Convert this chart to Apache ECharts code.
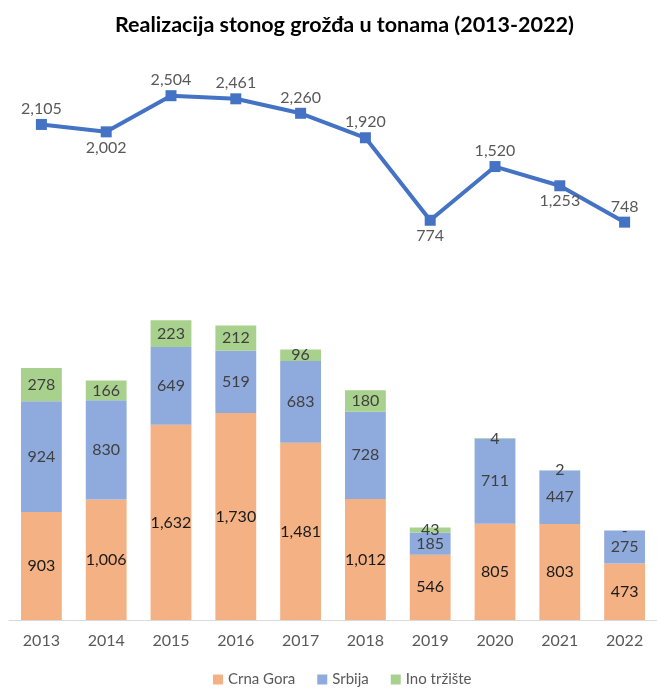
<!DOCTYPE html>
<html>
<head>
<meta charset="utf-8">
<script src="https://cdn.jsdelivr.net/npm/echarts@6/dist/echarts.min.js"></script>
<style>
  html, body { margin: 0; padding: 0; background: #fff; }
  #chart { width: 657px; height: 688px; }
</style>
</head>
<body>
<div id="chart"></div>
<script>
// godine
var years = ['2013', '2014', '2015', '2016', '2017', '2018', '2019', '2020', '2021', '2022'];
// realizacija po tržištima (t)
var crnaGora = [903, 1006, 1632, 1730, 1481, 1012, 546, 805, 803, 473];
var srbija = [924, 830, 649, 519, 683, 728, 185, 711, 447, 275];
var inoTrziste = [278, 166, 223, 212, 96, 180, 43, 4, 2, 0];
// ukupno
var ukupno = [2105, 2002, 2504, 2461, 2260, 1920, 774, 1520, 1253, 748];
// pozicija oznake na liniji
var linePos = ['top', 'bottom', 'top', 'top', 'top', 'top', 'bottom', 'top', 'bottom', 'top'];

var fontFam = 'Lato, "Open Sans", sans-serif';

function fmt(v) {
	if (v === 0) return '-';
	return v.toLocaleString('en-US');
}

var lineData = [];
for (var i = 0; i < ukupno.length; i++) {
	lineData.push({
		value: ukupno[i],
		label: { position: linePos[i] }
	});
}

var segLabel = function(color) {
	return {
		show: true,
		position: 'inside',
		color: color,
		fontSize: 16,
		fontFamily: fontFam,
		formatter: function(p) { return fmt(p.value); }
	};
};

var option = {
	backgroundColor: '#fff',
	animation: false,
	title: {
		text: 'Realizacija stonog grožđa u tonama (2013-2022)',
		left: 110,
		top: 9,
		textStyle: { fontSize: 21.5, fontWeight: 'bold', color: '#000', fontFamily: fontFam }
	},
	legend: {
		bottom: -4,
		left: 208,
		itemWidth: 10,
		itemHeight: 10,
		itemGap: 22,
		icon: 'rect',
		data: ['Crna Gora', 'Srbija', 'Ino tržište'],
		textStyle: { fontSize: 15, color: '#595959', fontFamily: fontFam }
	},
	grid: [
		{ left: 9, width: 658, top: 60, bottom: 412 },
		{ left: 9, width: 658, top: 261, bottom: 68 }
	],
	xAxis: [
		{
			type: 'category', gridIndex: 0, data: years,
			show: false
		},
		{
			type: 'category', gridIndex: 1, data: years,
			axisLine: { lineStyle: { color: '#d9d9d9' } },
			axisTick: { show: false },
			axisLabel: { fontSize: 16, color: '#595959', margin: 13, fontFamily: fontFam }
		}
	],
	yAxis: [
		{ type: 'value', gridIndex: 0, min: 0, max: 3000, show: false, splitLine: { show: false } },
		{ type: 'value', gridIndex: 1, min: 0, max: 3000, show: false, splitLine: { show: false } }
	],
	series: [
		{
			name: 'Ukupno',
			type: 'line',
			xAxisIndex: 0,
			yAxisIndex: 0,
			data: lineData,
			symbol: 'rect',
			symbolSize: 11,
			lineStyle: { color: '#4472C4', width: 4 },
			itemStyle: { color: '#4472C4' },
			label: {
				show: true,
				color: '#595959',
				fontSize: 16,
				fontFamily: fontFam,
				distance: 2,
				formatter: function(p) { return fmt(p.value); }
			}
		},
		{
			name: 'Crna Gora',
			type: 'bar',
			stack: 'a',
			xAxisIndex: 1,
			yAxisIndex: 1,
			barWidth: '63%',
			data: crnaGora,
			itemStyle: { color: '#F4B183' },
			label: segLabel('#1a1a1a')
		},
		{
			name: 'Srbija',
			type: 'bar',
			stack: 'a',
			xAxisIndex: 1,
			yAxisIndex: 1,
			data: srbija,
			itemStyle: { color: '#8FAADC' },
			label: segLabel('#404040')
		},
		{
			name: 'Ino tržište',
			type: 'bar',
			stack: 'a',
			xAxisIndex: 1,
			yAxisIndex: 1,
			data: inoTrziste,
			itemStyle: { color: '#A9D18E' },
			label: segLabel('#404040')
		}
	]
};

var myChart = echarts.init(document.getElementById('chart'));
myChart.setOption(option);
</script>
</body>
</html>
